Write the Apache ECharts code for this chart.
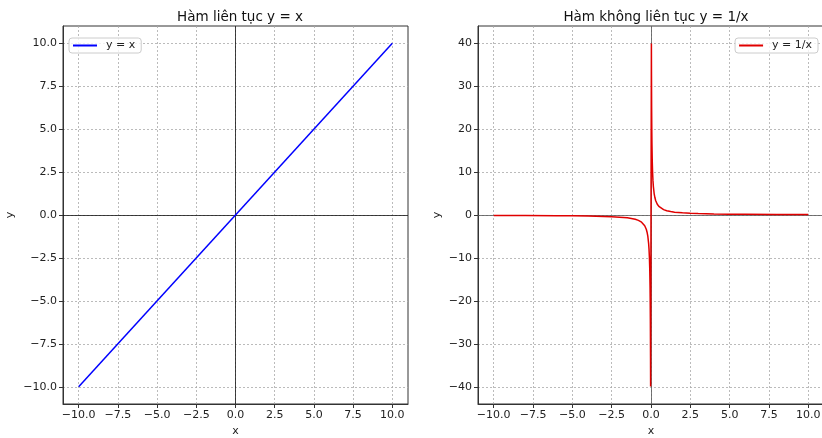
<!DOCTYPE html>
<html>
<head>
<meta charset="utf-8">
<script src="https://cdn.jsdelivr.net/npm/echarts@6/dist/echarts.min.js"></script>
<style>html,body{margin:0;padding:0;background:#fff;}#c{width:822px;height:438px;}</style>
</head>
<body>
<div id="c"></div>
<script>
// Left panel: y = x
const linX = [-10, 10];
const linY = [-10, 10];
// Right panel: y = 1/x
const invX = [-10, -8, -6, -5, -4, -3, -2.5, -2, -1.5, -1.25, -1, -0.8, -0.6, -0.5, -0.4, -0.3, -0.25, -0.2, -0.15, -0.125, -0.1, -0.08, -0.06, -0.05, -0.04, -0.03, -0.025,
              0.025, 0.03, 0.04, 0.05, 0.06, 0.08, 0.1, 0.125, 0.15, 0.2, 0.25, 0.3, 0.4, 0.5, 0.6, 0.8, 1, 1.25, 1.5, 2, 2.5, 3, 4, 5, 6, 8, 10];
const invY = [-0.1, -0.125, -0.167, -0.2, -0.25, -0.333, -0.4, -0.5, -0.667, -0.8, -1, -1.25, -1.667, -2, -2.5, -3.333, -4, -5, -6.667, -8, -10, -12.5, -16.667, -20, -25, -33.3, -39.9,
              39.9, 33.3, 25, 20, 16.667, 12.5, 10, 8, 6.667, 5, 4, 3.333, 2.5, 2, 1.667, 1.25, 1, 0.8, 0.667, 0.5, 0.4, 0.333, 0.25, 0.2, 0.167, 0.125, 0.1];
const xTicks = [-10, -7.5, -5, -2.5, 0, 2.5, 5, 7.5, 10];
const yTicksLeft = [-10, -7.5, -5, -2.5, 0, 2.5, 5, 7.5, 10];
const yTicksRight = [-40, -30, -20, -10, 0, 10, 20, 30, 40];

const FONT = 'DejaVu Sans';
const tickColor = '#222';
const FS = 11;
const fmt1 = v => (v < 0 ? '\u2212' : '') + Math.abs(v).toFixed(1);
const fmt0 = v => (v < 0 ? '\u2212' : '') + Math.abs(v).toFixed(0);

function valAxis(idx, min, max, ticks, fmt, name, nameGap, isY) {
  return {
    type: 'value', gridIndex: idx, min: min, max: max,
    name: name, nameLocation: 'middle', nameGap: nameGap,
    nameRotate: isY ? 90 : 0,
    nameTextStyle: { fontFamily: FONT, fontSize: FS, color: tickColor },
    axisLine: { show: true, onZero: false, lineStyle: { color: '#333', width: 1 } },
    axisTick: { show: true, inside: false, length: 4, customValues: ticks, lineStyle: { color: '#333', width: 1 } },
    axisLabel: { show: true, customValues: ticks, formatter: fmt, margin: 6, fontFamily: FONT, fontSize: FS, color: tickColor, hideOverlap: false },
    splitLine: { show: true, lineStyle: { color: '#aaa', type: [2, 2], width: 0.8 } },
    splitArea: { show: false }
  };
}

const linData = linX.map((x, i) => [x, linY[i]]);
const invData = invX.map((x, i) => [x, invY[i]]);

const legendBase = {
  orient: 'vertical', itemWidth: 24, itemHeight: 2, icon: 'rect', itemGap: 6,
  padding: [2, 6, 2, 4], borderColor: '#ccc', borderWidth: 1, borderRadius: 3, backgroundColor: 'rgba(255,255,255,0.8)',
  textStyle: { fontFamily: FONT, fontSize: FS, color: '#222', padding: [0, 0, 0, 4] }
};

const chart = echarts.init(document.getElementById('c'), null, { renderer: 'canvas' });
chart.setOption({
  animation: false,
  backgroundColor: '#fff',
  title: [
    { text: 'Hàm liên tục y = x', left: 235, top: 5, textAlign: 'center', textStyle: { fontFamily: FONT, fontSize: 13.5, fontWeight: 'normal', color: '#111' } },
    { text: 'Hàm không liên tục y = 1/x', left: 651, top: 5, textAlign: 'center', textStyle: { fontFamily: FONT, fontSize: 13.5, fontWeight: 'normal', color: '#111' } }
  ],
  grid: [
    { left: 63, right: 414, top: 26, bottom: 34, show: true, borderColor: '#333', borderWidth: 1, backgroundColor: 'transparent', outerBoundsMode: 'none', containLabel: false },
    { left: 478, right: -2, top: 26, bottom: 34, show: true, borderColor: '#333', borderWidth: 1, backgroundColor: 'transparent', outerBoundsMode: 'none', containLabel: false }
  ],
  xAxis: [
    valAxis(0, -11, 11, xTicks, fmt1, 'x', 22, false),
    valAxis(1, -11, 11, xTicks, fmt1, 'x', 22, false)
  ],
  yAxis: [
    valAxis(0, -11, 11, yTicksLeft, fmt1, 'y', 47, true),
    valAxis(1, -44, 44, yTicksRight, fmt0, 'y', 35, true)
  ],
  legend: [
    Object.assign({}, legendBase, { data: ['y = x'], left: 69, top: 38 }),
    Object.assign({}, legendBase, { data: ['y = 1/x'], right: 4, top: 38 })
  ],
  series: [
    { name: 'y = x', type: 'line', xAxisIndex: 0, yAxisIndex: 0, data: linData, showSymbol: false, symbol: 'none',
      lineStyle: { color: '#0000ff', width: 1.5 }, itemStyle: { color: '#0000ff' }, z: 5,
      markLine: { silent: true, symbol: 'none', label: { show: false }, lineStyle: { color: '#111', width: 0.8, type: 'solid' },
        data: [{ xAxis: 0 }, { yAxis: 0 }] } },
    { name: 'y = 1/x', type: 'line', xAxisIndex: 1, yAxisIndex: 1, data: invData, showSymbol: false, symbol: 'none', smooth: false,
      lineStyle: { color: '#e00000', width: 1.5 }, itemStyle: { color: '#e00000' }, z: 5,
      markLine: { silent: true, symbol: 'none', label: { show: false }, lineStyle: { color: '#555', width: 0.8, type: 'solid' },
        data: [{ xAxis: 0 }, { yAxis: 0 }] } }
  ]
});
</script>
</body>
</html>
